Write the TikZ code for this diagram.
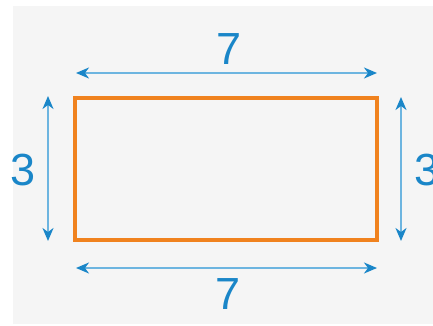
\documentclass[tikz,border=0pt]{standalone}
\usepackage{fontspec}
\setmainfont{Liberation Sans}
\usetikzlibrary{arrows.meta}
\definecolor{bg}{HTML}{F5F5F5}
\definecolor{orng}{HTML}{F0821E}
\definecolor{blu}{HTML}{1A86C8}
\definecolor{bluline}{HTML}{6DB5E0}
\tikzset{
  dim/.style={draw=bluline, line width=2pt, {Stealth[length=13pt,width=11pt,inset=4pt,color=blu]}-{Stealth[length=13pt,width=11pt,inset=4pt,color=blu]}},
  lab/.style={text=blu, font=\fontsize{45}{45}\selectfont, inner sep=0pt},
}
\begin{document}
\begin{tikzpicture}[x=1pt,y=-1pt]
\useasboundingbox (0,0) rectangle (433,325);
\fill[bg] (13,6) rectangle (433,324);
\draw[orng, line width=3.2pt] (75,98) rectangle (377,240);
\coordinate (t1) at (76,73); \coordinate (t2) at (377,73);
\coordinate (b1) at (76,268); \coordinate (b2) at (377,268);
\coordinate (l1) at (48,96); \coordinate (l2) at (48,241);
\coordinate (r1) at (401,97); \coordinate (r2) at (401,241);
\draw[dim] (t1) -- (t2);
\draw[dim] (b1) -- (b2);
\draw[dim] (l1) -- (l2);
\draw[dim] (r1) -- (r2);
\node[lab] (tl) at (229,49) {7};
\node[lab] (bl) at (228,294) {7};
\node[lab] (ll) at (23,170) {3};
\node[lab] (rl) at (427,170) {3};
\end{tikzpicture}
\end{document}
